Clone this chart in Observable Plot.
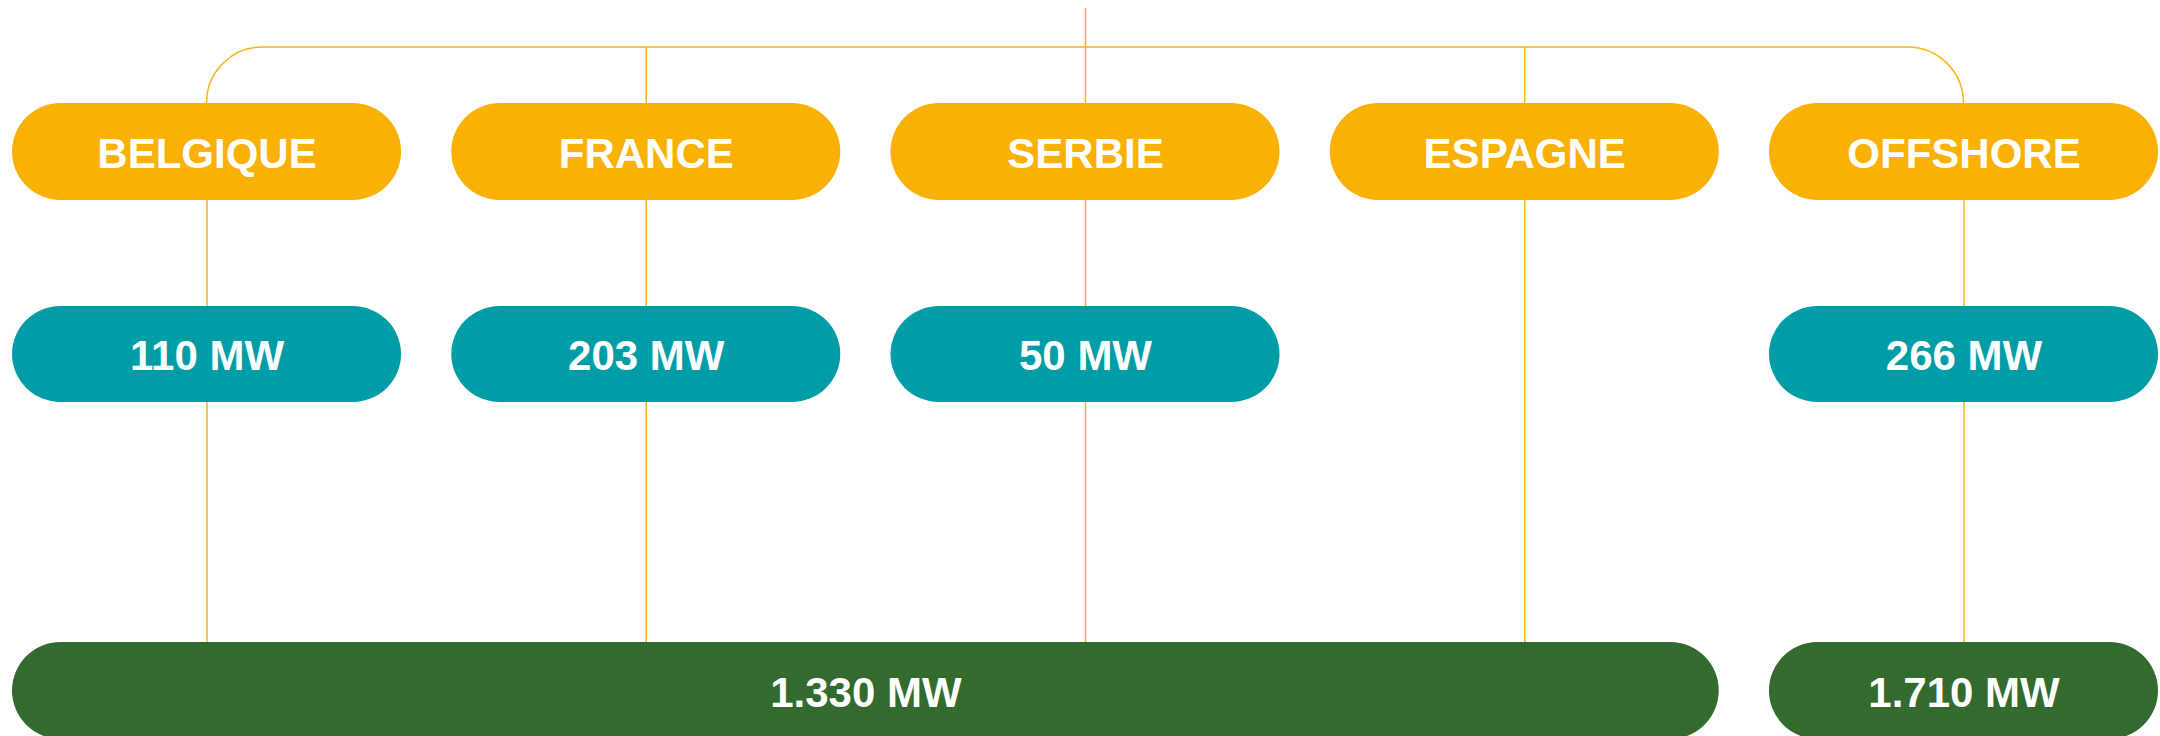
<!DOCTYPE html>
<html>
<head>
<meta charset="utf-8">
<script src="https://cdn.jsdelivr.net/npm/d3@7"></script>
<script src="https://cdn.jsdelivr.net/npm/@observablehq/plot@0.6"></script>
<style>
  html, body { margin: 0; padding: 0; background: #ffffff; }
  #chart { width: 2160px; height: 736px; overflow: hidden; }
</style>
</head>
<body>
<div id="chart"></div>
<script>
// ---- data ----
const categories = ["BELGIQUE", "FRANCE", "SERBIE", "ESPAGNE", "OFFSHORE"];
const capacityMW = [110, 203, 50, null, 266];
const totalMW = [1330, 1710];
const totalFrom = ["BELGIQUE", "OFFSHORE"];
const totalTo = ["ESPAGNE", "OFFSHORE"];
const unit = "MW";

// ---- styles ----
const ORANGE = "#F8B104";
const TEAL = "#009DA6";
const GREEN = "#336A2E";
const LINE = "#F7B51A";
const FONT = "'Liberation Sans', Arial, Helvetica, sans-serif";

const fmt = d3.formatLocale({decimal: ",", thousands: ".", grouping: [3], currency: ["", ""]}).format(",d");
const idx = (c) => categories.indexOf(c);

// rows: each row occupies [2k, 2k+1] in the y domain; -2/-1 are the connector levels
const countries = categories.map((c, i) => ({name: c, i}));
const caps = categories.map((c, i) => ({name: c, i, v: capacityMW[i]})).filter(d => d.v != null);
const totals = totalMW.map((v, k) => ({v, a: idx(totalFrom[k]), b: idx(totalTo[k])}));
const middle = countries.slice(1, -1);
const root = [{i: (categories.length - 1) / 2}];

function bracket(index, scales) {
  const sx = scales.x, sy = scales.y;
  const x0 = sx(0), x4 = sx(categories.length - 1);
  const yb = sy(-1), yt = sy(0);
  const r = yt - yb;
  const p = d3.path();
  p.moveTo(x0, yt);
  p.arcTo(x0, yb, x0 + r, yb, r);
  p.lineTo(x4 - r, yb);
  p.arcTo(x4, yb, x4, yb + r, r);
  p.lineTo(x4, yt);
  const g = d3.create("svg:g");
  g.append("path").attr("d", p.toString()).attr("fill", "none")
    .attr("stroke", LINE).attr("stroke-width", 1.5);
  return g.node();
}

const textOpts = {fill: "white", fontSize: 42, fontWeight: "bold", fontFamily: FONT, dy: 2.5, textAnchor: "middle"};

const chart = Plot.plot({
  width: 2160,
  height: 736,
  marginTop: 0, marginBottom: 0, marginLeft: 0, marginRight: 0,
  style: {background: "white", fontFamily: FONT, overflow: "hidden"},
  x: {type: "linear", domain: [-0.5, categories.length - 0.5], range: [-13.1, 2183.1], axis: null},
  y: {type: "linear", domain: [-2, -1, 0, 1, 2, 3, 4, 5], range: [8, 47, 103, 200, 306, 402, 642, 739], axis: null},
  marks: [
    // connectors
    Plot.ruleX(root, {x: "i", y1: -2, y2: -1, stroke: LINE, strokeWidth: 1.5}),
    Plot.ruleX(middle, {x: "i", y1: -1, y2: 0, stroke: LINE, strokeWidth: 1.5}),
    Plot.ruleX(countries, {x: "i", y1: 1, y2: 4, stroke: LINE, strokeWidth: 1.5}),
    bracket,
    // country pills
    Plot.rect(countries, {x1: d => d.i - 0.5, x2: d => d.i + 0.5, y1: 0, y2: 1,
      insetLeft: 25.1, insetRight: 25.1, rx: 48.5, ry: 48.5, fill: ORANGE}),
    Plot.text(countries, {x: "i", y: 0.5, text: "name", ...textOpts}),
    // capacity pills
    Plot.rect(caps, {x1: d => d.i - 0.5, x2: d => d.i + 0.5, y1: 2, y2: 3,
      insetLeft: 25.1, insetRight: 25.1, rx: 48.5, ry: 48.5, fill: TEAL}),
    Plot.text(caps, {x: "i", y: 2.5, text: d => `${fmt(d.v)} ${unit}`, ...textOpts}),
    // totals
    Plot.rect(totals, {x1: d => d.a - 0.5, x2: d => d.b + 0.5, y1: 4, y2: 5,
      insetLeft: 25.1, insetRight: 25.1, rx: 48.5, ry: 48.5, fill: GREEN}),
    Plot.text(totals, {x: d => (d.a + d.b) / 2, y: 4.5, text: d => `${fmt(d.v)} ${unit}`, ...textOpts})
  ]
});
document.getElementById("chart").appendChild(chart);
</script>
</body>
</html>
